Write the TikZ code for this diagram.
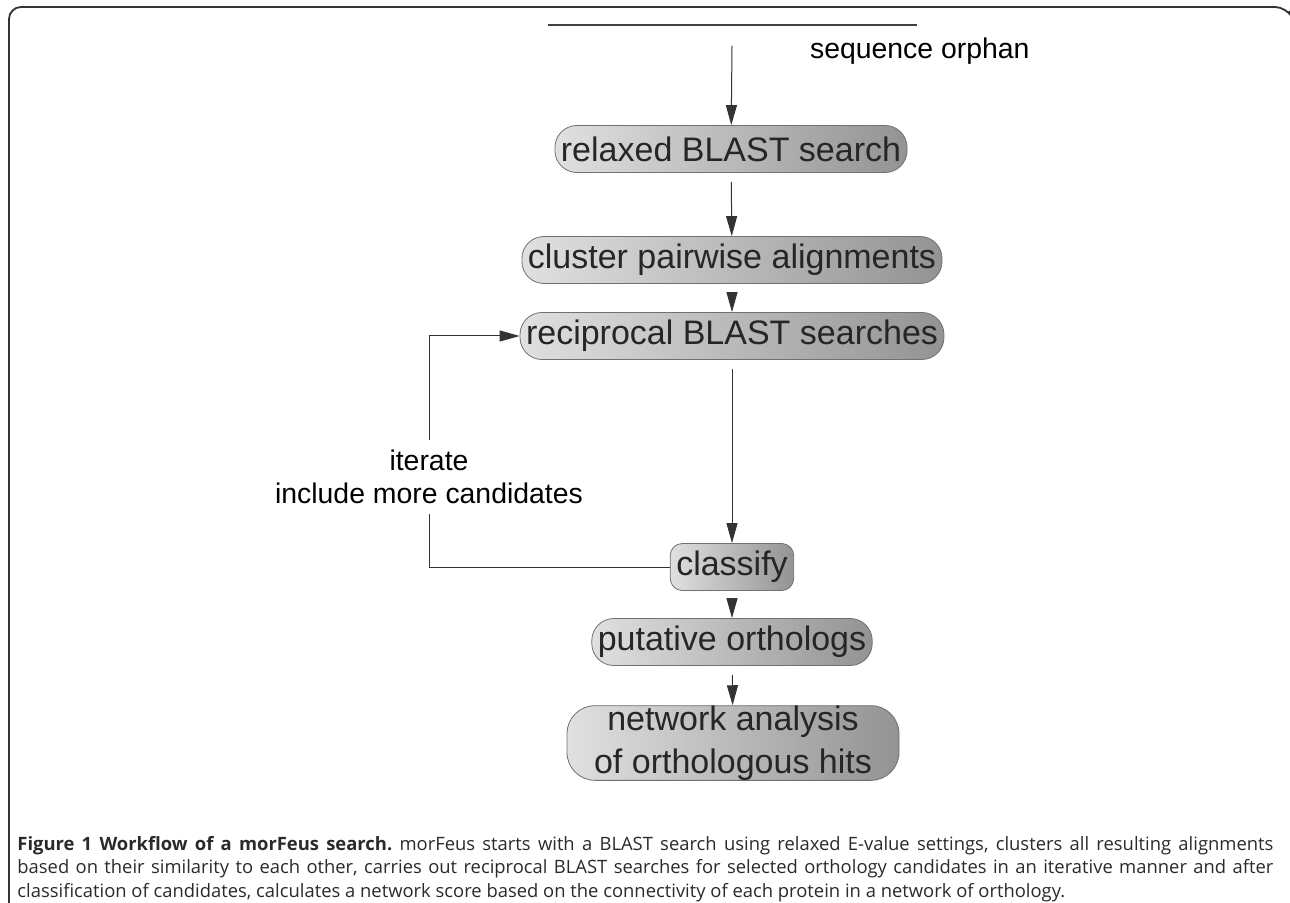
\documentclass[tikz,border=0pt]{standalone}
\usepackage{fontspec}
\setmainfont{Liberation Sans}
\newfontfamily\capfont{Open Sans}
\usetikzlibrary{arrows.meta, positioning}
\frenchspacing

\definecolor{boxlight}{HTML}{E0E0E0}
\definecolor{boxdark}{HTML}{939393}
\definecolor{boxline}{HTML}{707070}
\definecolor{arrowgray}{HTML}{333333}
\definecolor{captext}{HTML}{2A2A2A}

\begin{document}
\begin{tikzpicture}[x=0.5pt, y=-0.5pt,
    stage/.style={draw=boxline, line width=0.4pt, left color=boxlight, right color=boxdark,
      rounded corners=11pt, minimum height=23.5pt, inner xsep=3pt, inner ysep=0pt,
      font=\fontsize{17}{21.5}\selectfont, text=black!85},
    flow/.style={draw=arrowgray, line width=0.5pt, shorten <=4.5pt,
      -{Triangle[length=10pt, width=5.5pt]}}]
      \useasboundingbox (0,0) rectangle (1290,903);

      % frame
      \draw[line width=0.9pt, draw=black!80, rounded corners=6pt] (9,903) -- (9,7) -- (1287,7) -- (1289,11);

      % input sequence
      \coordinate (seqL) at (548,25);
      \coordinate (seqR) at (917,25);
      \draw[line width=0.6pt, draw=black!75] (seqL) -- (seqR);
      \node[font=\fontsize{14.2}{17}\selectfont, anchor=west] (orphan) at (803,51) {sequence orphan};
      \coordinate (seqtop) at (732,46);

      % stages of the search
      \node[stage] (relaxed) at (731,149) {relaxed BLAST search};
      \node[stage] (cluster) at (732,260) {cluster pairwise alignments};
      \node[stage] (recip) at (732,336) {reciprocal BLAST searches};
      \node[stage, rounded corners=6pt] (classify) at (732,567) {classify};
      \node[stage] (putative) at (732,642) {putative orthologs};
      \node[stage, align=center, minimum width=166pt, minimum height=35pt,
        rounded corners=14pt] (network) at (733,743) {network analysis\\of orthologous hits};

      \draw[flow, shorten <=0pt] (seqtop) -- (relaxed);
      \draw[flow] (relaxed) -- (cluster);
      \draw[flow] (cluster) -- (recip);
      \draw[flow] (recip) -- (classify);
      \draw[flow] (classify) -- (putative);
      \draw[flow] (putative) -- (network);

      % loop back
      \node[font=\fontsize{14.2}{16.5}\selectfont, align=center, inner ysep=5pt] (iter) at (429,477)
        {iterate\\include more candidates};
      \draw[line width=0.5pt, draw=arrowgray] (classify.west) -| (iter.south);
      \draw[flow, shorten <=0pt] (iter.north) |- (recip.west);

      % caption
      \node[anchor=north west, align=justify, text width=628pt, inner sep=0pt, text=captext,
        font=\capfont\fontsize{9.2}{11.75}\selectfont] (caption) at (17,836)
        {\textbf{Figure 1 Workflow of a morFeus search.} morFeus starts with a BLAST search using relaxed E-value settings, clusters all resulting alignments\linebreak
         based on their similarity to each other, carries out reciprocal BLAST searches for selected orthology candidates in an iterative manner and after\linebreak
         classification of candidates, calculates a network score based on the connectivity of each protein in a network of orthology.};
    \end{tikzpicture}
\end{document}
